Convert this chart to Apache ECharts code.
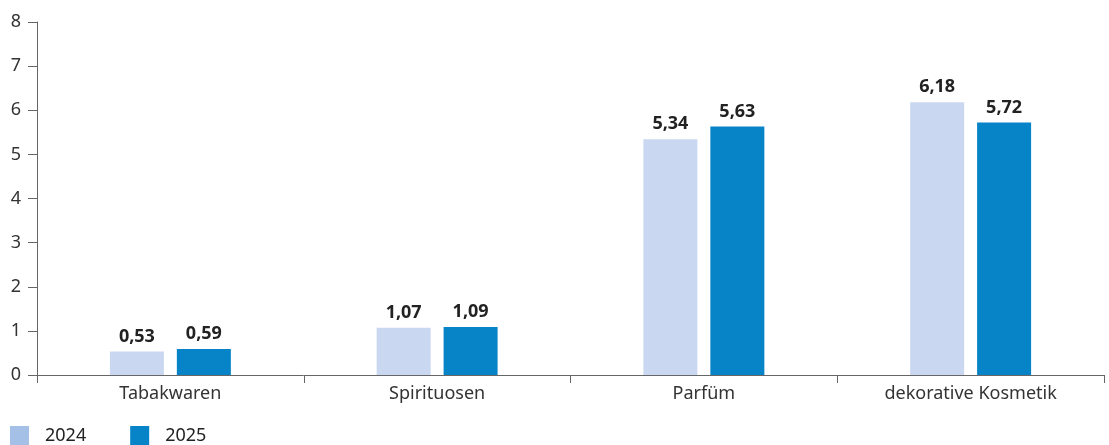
<!DOCTYPE html>
<html><head><meta charset="utf-8">
<script src="https://cdn.jsdelivr.net/npm/echarts@6/dist/echarts.min.js"></script>
<style>html,body{margin:0;padding:0;background:#fff}#c{width:1109px;height:445px}</style>
</head><body><div id="c"></div>
<script>
const categories = ['Tabakwaren', 'Spirituosen', 'Parfüm', 'dekorative Kosmetik'];
const values2024 = [0.53, 1.07, 5.34, 6.18];
const values2025 = [0.59, 1.09, 5.63, 5.72];
const yTicks = [0, 1, 2, 3, 4, 5, 6, 7, 8];
const font = '"Noto Sans", sans-serif';
const chart = echarts.init(document.getElementById('c'));
const lbl = {
  show: true, position: 'top', distance: 6,
  fontFamily: font, fontSize: 18, fontWeight: 'bold', color: '#222',
  formatter: p => p.value.toFixed(2).replace('.', ',')
};
chart.setOption({
  animation: false,
  grid: { left: 37, right: 5, top: 22, bottom: 70 },
  legend: {
    left: 10, bottom: 0, padding: 0, itemWidth: 19, itemHeight: 19, itemGap: 44, icon: 'rect',
    textStyle: { fontFamily: font, fontSize: 18, color: '#222', padding: [0, 0, 0, 11] },
    data: [
      { name: '2024', itemStyle: { color: '#a4c0e7' } },
      { name: '2025', itemStyle: { color: '#0783c7' } }
    ]
  },
  xAxis: {
    type: 'category', data: categories,
    axisLine: { lineStyle: { color: '#666', width: 1 } },
    axisTick: { show: true, length: 8, inside: false, lineStyle: { color: '#666' } },
    axisLabel: { fontFamily: font, fontSize: 18, color: '#333', margin: 10 }
  },
  yAxis: {
    type: 'value', min: 0, max: 8, interval: 1,
    axisLine: { show: true, lineStyle: { color: '#666' } },
    axisTick: { show: true, length: 9, lineStyle: { color: '#666' } },
    splitLine: { show: false },
    axisLabel: { fontFamily: font, fontSize: 18, color: '#333', margin: 16,
      formatter: v => yTicks.includes(v) ? String(v) : '' }
  },
  series: [
    { name: '2024', type: 'bar', data: values2024, barWidth: 54, barGap: '24%',
      itemStyle: { color: '#c9d7f0' }, label: lbl },
    { name: '2025', type: 'bar', data: values2025, barWidth: 54, barGap: '24%',
      itemStyle: { color: '#0783c7' }, label: lbl }
  ]
});
</script></body></html>
